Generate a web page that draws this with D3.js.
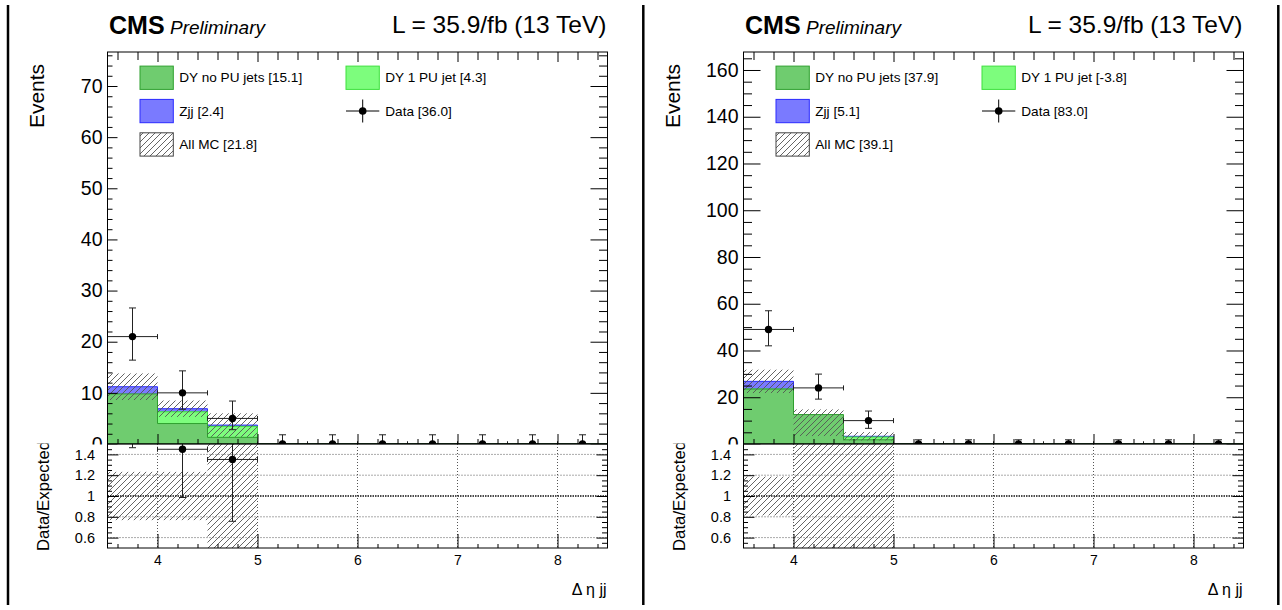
<!DOCTYPE html>
<html>
<head>
<meta charset="utf-8">
<script src="https://cdn.jsdelivr.net/npm/d3@7"></script>
<style>
body{margin:0;background:#fff}
svg text{font-family:"Liberation Sans",Arial,Helvetica,sans-serif;fill:#000}
</style>
</head>
<body>
<div id="fig"></div>
<script>
// bin edges in delta eta jj
var binEdges=[3.5,4,4.5,5,5.5,6,6.5,7,7.5,8,8.5];
var xTicks=[4,5,6,7,8];
var ratioTicks=[0.6,0.8,1,1.2,1.4];

// left plot
var dyNoPU_A=[9.8,4.0,1.3,0,0,0,0,0,0,0];
var dy1PU_A=[-0.15,2.3,2.15,0,0,0,0,0,0,0];
var zjj_A=[1.55,0.6,0.25,0,0,0,0,0,0,0];
var mcErr_A=[2.6,1.6,2.3,0,0,0,0,0,0,0];
var data_A=[21,10,5,0,0,0,0,0,0,0];
var dataLo_A=[4.6,3.2,2.2,0,0,0,0,0,0,0];
var dataHi_A=[5.6,4.3,3.4,1.8,1.8,1.8,1.8,1.8,1.8,1.8];
var legend_A=["DY no PU jets [15.1]","DY 1 PU jet [4.3]","Zjj [2.4]","Data [36.0]","All MC [21.8]"];
var yTicks_A=[0,10,20,30,40,50,60,70];

// right plot
var dyNoPU_B=[23.5,12.6,1.8,0,0,0,0,0,0,0];
var dy1PU_B=[0.0,-5.0,1.2,0,0,0,0,0,0,0];
var zjj_B=[3.3,1.5,0.3,0,0,0,0,0,0,0];
var mcErr_B=[5.0,5.7,1.8,0,0,0,0,0,0,0];
var data_B=[49,24,10,0,0,0,0,0,0,0];
var dataLo_B=[7.0,4.8,3.3,0,0,0,0,0,0,0];
var dataHi_B=[8.0,5.9,4.1,1.8,1.8,1.8,1.8,1.8,1.8,1.8];
var legend_B=["DY no PU jets [37.9]","DY 1 PU jet [-3.8]","Zjj [5.1]","Data [83.0]","All MC [39.1]"];
var yTicks_B=[0,20,40,60,80,100,120,140,160];

var titulo="L = 35.9/fb (13 TeV)";

var svg=d3.select("#fig").append("svg").attr("width",1282).attr("height",610);
var defs=svg.append("defs");
var pat=defs.append("pattern").attr("id","hatch").attr("patternUnits","userSpaceOnUse")
	.attr("width",6).attr("height",6);
pat.append("path").attr("d","M-1,1 l2,-2 M0,6 l6,-6 M5,7 l2,-2")
	.attr("stroke","#555").attr("stroke-width",0.9);

var colores={nopu:"#6fcc6f",nopuL:"#2fa02f",pu:"#7dfd7d",puL:"#3ee03e",zjj:"#7a7aff",zjjL:"#2a2aff"};

panel({id:"a",x0:107.5,nopu:dyNoPU_A,pu:dy1PU_A,zjj:zjj_A,err:mcErr_A,data:data_A,lo:dataLo_A,hi:dataHi_A,
	legend:legend_A,yTicks:yTicks_A,yMax:76.65,minor:2,tl:10,tr:17});
panel({id:"b",x0:743.5,nopu:dyNoPU_B,pu:dy1PU_B,zjj:zjj_B,err:mcErr_B,data:data_B,lo:dataLo_B,hi:dataHi_B,
	legend:legend_B,yTicks:yTicks_B,yMax:167.7,minor:5,tl:17,tr:17});

// bordes negros de las dos figuras
[8,643.3,1278.3].forEach(function(xx){
	svg.append("line").attr("x1",xx).attr("x2",xx).attr("y1",5).attr("y2",605)
		.attr("stroke","#000").attr("stroke-width",2.5);
});

function panel(p){
	var top=52,bot=444,rbot=548,ancho=500;
	var x=d3.scaleLinear().domain([3.5,8.5]).range([p.x0,p.x0+ancho]);
	var y=d3.scaleLinear().domain([0,p.yMax]).range([bot,top]);
	var r=d3.scaleLinear().domain([0.5,1.5]).range([rbot,bot]);
	var bins=d3.range(10);
	var xMinor=d3.range(3.6,8.5,0.2).filter(function(v){return Math.abs(v-Math.round(v))>0.01});
	var yMinor=d3.range(0,p.yMax,p.minor).filter(function(v){return p.yTicks.indexOf(v)<0});
	var rMinor=d3.range(0.55,1.5,0.05).filter(function(v){return Math.abs(v*5-Math.round(v*5))>0.01});

	// titulos
	svg.append("text").attr("x",p.x0+1.5).attr("y",33.5).attr("font-size",25).attr("font-weight","bold").text("CMS");
	svg.append("text").attr("x",p.x0+62.5).attr("y",33.5).attr("font-size",19).attr("font-style","italic").text("Preliminary");
	svg.append("text").attr("x",p.x0+ancho-1).attr("y",33.3).attr("font-size",24.5).attr("text-anchor","end").text(titulo);
	svg.append("text").attr("transform","translate("+(p.x0-64)+",96) rotate(-90)")
		.attr("font-size",21).attr("text-anchor","middle").text("Events");

	// ---- pad de arriba
	defs.append("clipPath").attr("id","cu"+p.id).append("rect")
		.attr("x",p.x0).attr("y",top).attr("width",ancho).attr("height",bot-top);
	var up=svg.append("g").attr("clip-path","url(#cu"+p.id+")");

	var c1=p.nopu.slice();
	var c2=c1.map(function(v,i){return v+p.pu[i]});
	var c3=c2.map(function(v,i){return v+p.zjj[i]});
	var area=d3.area().curve(d3.curveStepAfter)
		.x(function(d){return x(d[0])}).y0(y(0)).y1(function(d){return y(d[1])});
	function pts(vals){return binEdges.map(function(e,i){return [e,vals[Math.min(i,9)]]})}
	[[c3,colores.zjj,colores.zjjL],[c2,colores.pu,colores.puL],[c1,colores.nopu,colores.nopuL]].forEach(function(s){
		up.append("path").attr("d",area(pts(s[0])))
			.style("fill",s[1]).style("stroke",s[2]).style("stroke-width",1);
	});
	// banda de error MC
	up.selectAll(".mcerr").data(bins.filter(function(i){return p.err[i]>0})).enter()
		.append("rect")
		.attr("x",function(i){return x(binEdges[i])})
		.attr("width",function(i){return x(binEdges[i+1])-x(binEdges[i])})
		.attr("y",function(i){return y(c3[i]+p.err[i])})
		.attr("height",function(i){return y(Math.max(c3[i]-p.err[i],0))-y(c3[i]+p.err[i])})
		.style("fill","url(#hatch)");
	// datos
	puntos(up,bins.map(function(i){
		return {xl:binEdges[i],xh:binEdges[i+1],v:p.data[i],lo:p.data[i]-p.lo[i],hi:p.data[i]+p.hi[i]};
	}),x,y);

	// ejes del pad de arriba
	var ejes=svg.append("g");
	ejes.append("g").attr("transform","translate("+p.x0+",0)")
		.call(d3.axisLeft(y).tickValues(p.yTicks).tickSizeInner(-p.tl).tickSizeOuter(0).tickPadding(5))
		.call(estilo,19.5);
	ejes.append("g").attr("transform","translate("+p.x0+",0)")
		.call(d3.axisLeft(y).tickValues(yMinor).tickSizeInner(-p.tl/2).tickSizeOuter(0).tickFormat(""));
	ejes.append("g").attr("transform","translate("+(p.x0+ancho)+",0)")
		.call(d3.axisRight(y).tickValues(p.yTicks).tickSizeInner(-p.tr).tickSizeOuter(0).tickFormat(""));
	ejes.append("g").attr("transform","translate("+(p.x0+ancho)+",0)")
		.call(d3.axisRight(y).tickValues(yMinor).tickSizeInner(-p.tr/2).tickSizeOuter(0).tickFormat(""));
	ejes.append("g").attr("transform","translate(0,"+top+")")
		.call(d3.axisTop(x).tickValues(xTicks).tickSizeInner(-10).tickSizeOuter(0).tickFormat(""));
	ejes.append("g").attr("transform","translate(0,"+top+")")
		.call(d3.axisTop(x).tickValues(xMinor).tickSizeInner(-8).tickSizeOuter(0).tickFormat(""));
	ejes.append("g").attr("transform","translate(0,"+bot+")")
		.call(d3.axisBottom(x).tickValues(xTicks).tickSizeInner(-10).tickSizeOuter(0).tickFormat(""));
	ejes.append("g").attr("transform","translate(0,"+bot+")")
		.call(d3.axisBottom(x).tickValues(xMinor).tickSizeInner(-5).tickSizeOuter(0).tickFormat(""));
	ejes.selectAll("path.domain").remove();
	ejes.selectAll("line").attr("stroke","#000");
	svg.append("rect").attr("x",p.x0).attr("y",top).attr("width",ancho).attr("height",bot-top)
		.style("fill","none").style("stroke","#000").style("stroke-width",1);

	// leyenda
	var filas=[77.7,111,144.4];
	var items=[
		{c:0,f:0,t:p.legend[0],fill:colores.nopu,line:colores.nopuL},
		{c:1,f:0,t:p.legend[1],fill:colores.pu,line:colores.puL},
		{c:0,f:1,t:p.legend[2],fill:colores.zjj,line:colores.zjjL},
		{c:1,f:1,t:p.legend[3],marker:true},
		{c:0,f:2,t:p.legend[4],fill:"url(#hatch)",line:"#444"}
	];
	var cols=[32.5,238.5];
	items.forEach(function(it){
		var bx=p.x0+cols[it.c],cy=filas[it.f];
		if(it.marker){
			svg.append("line").attr("x1",bx).attr("x2",bx+33.3).attr("y1",cy).attr("y2",cy).attr("stroke","#000");
			svg.append("line").attr("x1",bx+16.7).attr("x2",bx+16.7).attr("y1",cy-11.5).attr("y2",cy+11.5).attr("stroke","#000");
			svg.append("circle").attr("cx",bx+16.7).attr("cy",cy).attr("r",3.8).attr("fill","#000");
		}else{
			svg.append("rect").attr("x",bx).attr("y",cy-11.6).attr("width",33.3).attr("height",23.3)
				.style("fill",it.fill).style("stroke",it.line).style("stroke-width",1);
		}
		svg.append("text").attr("x",bx+39.3).attr("y",cy).attr("dy","0.35em").attr("font-size",13.6).text(it.t);
	});

	// ---- pad del cociente
	var rpad=svg.append("g");
	rpad.append("rect").attr("x",p.x0-100).attr("y",bot+0.5).attr("width",ancho+128).attr("height",160)
		.style("fill","#fff");
	defs.append("clipPath").attr("id","ct"+p.id).append("rect")
		.attr("x",p.x0-100).attr("y",bot-0.5).attr("width",100).attr("height",160);
	rpad.append("g").attr("clip-path","url(#ct"+p.id+")")
		.append("text")
		.attr("transform","translate("+(p.x0-58.5)+",551) rotate(-90)")
		.attr("font-size",16.8).text("Data/Expected");

	defs.append("clipPath").attr("id","cr"+p.id).append("rect")
		.attr("x",p.x0).attr("y",bot).attr("width",ancho).attr("height",rbot-bot);
	var rin=rpad.append("g").attr("clip-path","url(#cr"+p.id+")");
	var conMC=bins.filter(function(i){return c3[i]>0});
	rin.selectAll(".rerr").data(conMC).enter().append("rect")
		.attr("x",function(i){return x(binEdges[i])})
		.attr("width",function(i){return x(binEdges[i+1])-x(binEdges[i])})
		.attr("y",function(i){return r(1+p.err[i]/c3[i])})
		.attr("height",function(i){return r(1-p.err[i]/c3[i])-r(1+p.err[i]/c3[i])})
		.style("fill","url(#hatch)");
	// rejilla
	rin.selectAll(".gx").data(xTicks).enter().append("line")
		.attr("x1",function(d){return x(d)}).attr("x2",function(d){return x(d)})
		.attr("y1",bot).attr("y2",rbot)
		.attr("stroke","#555").attr("stroke-width",1).attr("stroke-dasharray","1,2");
	rin.selectAll(".gy").data(ratioTicks).enter().append("line")
		.attr("x1",p.x0).attr("x2",p.x0+ancho)
		.attr("y1",function(d){return r(d)}).attr("y2",function(d){return r(d)})
		.attr("stroke",function(d){return d==1?"#111":"#555"}).attr("stroke-width",function(d){return d==1?1.4:1})
		.attr("stroke-dasharray",function(d){return d==1?"1.5,1":"1,2"});
	puntos(rin,conMC.map(function(i){
		var t=c3[i];
		return {xl:binEdges[i],xh:binEdges[i+1],v:p.data[i]/t,lo:(p.data[i]-p.lo[i])/t,hi:(p.data[i]+p.hi[i])/t};
	}),x,r);

	var rej=rpad.append("g");
	rej.append("g").attr("transform","translate("+p.x0+",0)")
		.call(d3.axisLeft(r).tickValues(ratioTicks).tickSizeInner(-11).tickSizeOuter(0).tickPadding(12.5)
			.tickFormat(function(d){return String(d)}))
		.call(estilo,14.5);
	rej.append("g").attr("transform","translate("+p.x0+",0)")
		.call(d3.axisLeft(r).tickValues(rMinor).tickSizeInner(-4.5).tickSizeOuter(0).tickFormat(""));
	rej.append("g").attr("transform","translate("+(p.x0+ancho)+",0)")
		.call(d3.axisRight(r).tickValues(ratioTicks).tickSizeInner(-11).tickSizeOuter(0).tickFormat(""));
	rej.append("g").attr("transform","translate("+(p.x0+ancho)+",0)")
		.call(d3.axisRight(r).tickValues(rMinor).tickSizeInner(-5.5).tickSizeOuter(0).tickFormat(""));
	rej.append("g").attr("transform","translate(0,"+rbot+")")
		.call(d3.axisBottom(x).tickValues(xTicks).tickSizeInner(-14).tickSizeOuter(0).tickPadding(7)
			.tickFormat(function(d){return String(d)}))
		.call(estilo,14);
	rej.append("g").attr("transform","translate(0,"+rbot+")")
		.call(d3.axisBottom(x).tickValues(xMinor).tickSizeInner(-4).tickSizeOuter(0).tickFormat(""));
	rej.selectAll("path.domain").remove();
	rej.selectAll("line").attr("stroke","#000");
	rpad.append("rect").attr("x",p.x0).attr("y",bot).attr("width",ancho).attr("height",rbot-bot)
		.style("fill","none").style("stroke","#000").style("stroke-width",1);
	rpad.append("text").attr("x",p.x0+ancho-1).attr("y",595).attr("text-anchor","end")
		.attr("font-size",16).text("\u0394 \u03b7 jj");
}

function estilo(g,fs){
	g.attr("font-family",null).attr("font-size",null);
	g.selectAll("text").attr("font-size",fs).style("fill","#000");
}

// marcadores de datos con barras de error
function puntos(g,pp,x,y){
	var col="#222";
	pp.forEach(function(d){
		var cx=x((d.xl+d.xh)/2);
		g.append("line").attr("x1",x(d.xl)).attr("x2",x(d.xh)).attr("y1",y(d.v)).attr("y2",y(d.v)).attr("stroke",col);
		g.append("line").attr("x1",x(d.xl)).attr("x2",x(d.xl)).attr("y1",y(d.v)-2.5).attr("y2",y(d.v)+2.5).attr("stroke",col);
		g.append("line").attr("x1",x(d.xh)).attr("x2",x(d.xh)).attr("y1",y(d.v)-2.5).attr("y2",y(d.v)+2.5).attr("stroke",col);
		g.append("line").attr("x1",cx).attr("x2",cx).attr("y1",y(d.lo)).attr("y2",y(d.hi)).attr("stroke",col);
		g.append("line").attr("x1",cx-3.5).attr("x2",cx+3.5).attr("y1",y(d.lo)).attr("y2",y(d.lo)).attr("stroke",col);
		g.append("line").attr("x1",cx-3.5).attr("x2",cx+3.5).attr("y1",y(d.hi)).attr("y2",y(d.hi)).attr("stroke",col);
		g.append("circle").attr("cx",cx).attr("cy",y(d.v)).attr("r",3.7).attr("fill","#000");
	});
}
</script>
</body>
</html>
